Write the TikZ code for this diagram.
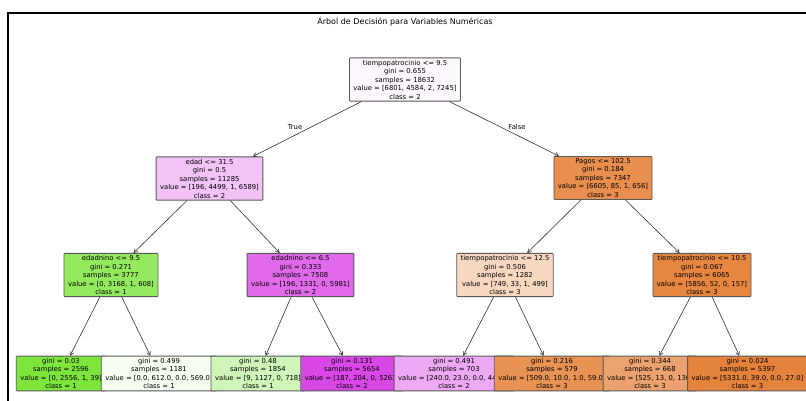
\documentclass[tikz,border=0pt]{standalone}
\usepackage{fontspec}
\setmainfont{DejaVu Sans}
\usetikzlibrary{arrows.meta}
\definecolor{croot}{HTML}{FDF8FE}
\definecolor{cedad}{HTML}{F3C2F7}
\definecolor{cpagos}{HTML}{E88F4F}
\definecolor{cna}{HTML}{94EA5F}
\definecolor{cnb}{HTML}{E16AEB}
\definecolor{ctpa}{HTML}{F7D7C0}
\definecolor{ctpb}{HTML}{E68640}
\definecolor{cla}{HTML}{7DE53C}
\definecolor{clb}{HTML}{F6FDF1}
\definecolor{clc}{HTML}{CFF6B8}
\definecolor{cld}{HTML}{DA47E7}
\definecolor{cle}{HTML}{EEA9F4}
\definecolor{clf}{HTML}{E89254}
\definecolor{clg}{HTML}{ECA26E}
\definecolor{clh}{HTML}{E5823B}
\begin{document}
\begin{tikzpicture}[x=1pt,y=-1pt,
  tn/.style={draw=black!65, line width=0.8pt, rounded corners=0.8pt, align=center,
    font=\fontsize{6.8}{8.5}\selectfont, inner xsep=4pt, inner ysep=2pt},
  arr/.style={draw=black!80, line width=0.6pt, -{Straight Barb[length=3.5pt,width=4pt]}},
  lbl/.style={font=\fontsize{6.8}{8.5}\selectfont, inner sep=0pt},
  frame/.style={line width=2pt, draw=black}]
\useasboundingbox (0,0) rectangle (806,401);
\fill[white] (0,0) rectangle (806,401);
\draw[frame] (8,410) -- (8,13) -- (815,13);
\node[font=\fontsize{8}{10}\selectfont] (title) at (405,22) {Árbol de Decisión para Variables Numéricas};

% root
\node[tn, fill=croot] (root) at (405,79.5) {tiempopatrocinio <= 9.5\\gini = 0.655\\samples = 18632\\value = [6801, 4584, 2, 7245]\\class = 2};
% level 1
\node[tn, fill=cedad] (edad) at (209.5,178.5) {edad <= 31.5\\gini = 0.5\\samples = 11285\\value = [196, 4499, 1, 6589]\\class = 2};
\node[tn, fill=cpagos] (pagos) at (603,178) {Pagos <= 102.5\\gini = 0.184\\samples = 7347\\value = [6605, 85, 1, 656]\\class = 3};
% level 2
\node[tn, fill=cna] (na) at (111,275) {edadnino <= 9.5\\gini = 0.271\\samples = 3777\\value = [0, 3168, 1, 608]\\class = 1};
\node[tn, fill=cnb] (nb) at (300.5,275) {edadnino <= 6.5\\gini = 0.333\\samples = 7508\\value = [196, 1331, 0, 5981]\\class = 2};
\node[tn, fill=ctpa] (tpa) at (505,275) {tiempopatrocinio <= 12.5\\gini = 0.506\\samples = 1282\\value = [749, 33, 1, 499]\\class = 3};
\node[tn, fill=ctpb] (tpb) at (702,275) {tiempopatrocinio <= 10.5\\gini = 0.067\\samples = 6065\\value = [5856, 52, 0, 157]\\class = 3};
% leaves
\node[tn, fill=cla] (la) at (61,373.5) {gini = 0.03\\samples = 2596\\value = [0, 2556, 1, 39]\\class = 1};
\node[tn, fill=clb] (lb) at (159,373.5) {gini = 0.499\\samples = 1181\\value = [0.0, 612.0, 0.0, 569.0]\\class = 1};
\node[tn, fill=clc] (lc) at (258,373.5) {gini = 0.48\\samples = 1854\\value = [9, 1127, 0, 718]\\class = 1};
\node[tn, fill=cld] (ld) at (352,373.5) {gini = 0.131\\samples = 5654\\value = [187, 204, 0, 5263]\\class = 2};
\node[tn, fill=cle] (le) at (454,373.5) {gini = 0.491\\samples = 703\\value = [240.0, 23.0, 0.0, 440.0]\\class = 2};
\node[tn, fill=clf] (lf) at (552,373.5) {gini = 0.216\\samples = 579\\value = [509.0, 10.0, 1.0, 59.0]\\class = 3};
\node[tn, fill=clg] (lg) at (650,373.5) {gini = 0.344\\samples = 668\\value = [525, 13, 0, 130]\\class = 3};
\node[tn, fill=clh] (lh) at (747.5,373.5) {gini = 0.024\\samples = 5397\\value = [5331.0, 39.0, 0.0, 27.0]\\class = 3};

% edges
\draw[arr] (root) -- (edad);
\draw[arr] (root) -- (pagos);
\draw[arr] (edad) -- (na);
\draw[arr] (edad) -- (nb);
\draw[arr] (pagos) -- (tpa);
\draw[arr] (pagos) -- (tpb);
\draw[arr] (na) -- (la);
\draw[arr] (na) -- (lb);
\draw[arr] (nb) -- (lc);
\draw[arr] (nb) -- (ld);
\draw[arr] (tpa) -- (le);
\draw[arr] (tpa) -- (lf);
\draw[arr] (tpb) -- (lg);
\draw[arr] (tpb) -- (lh);

\node[lbl] (ltrue) at (295,127) {True};
\node[lbl] (lfalse) at (517,127) {False};
\end{tikzpicture}
\end{document}
